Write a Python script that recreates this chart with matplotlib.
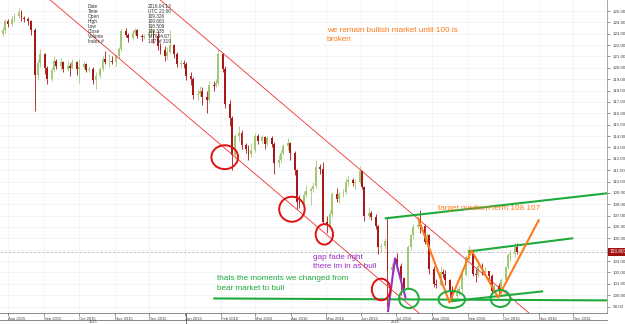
import numpy as np
import pandas as pd
import matplotlib
matplotlib.use('Agg')
import matplotlib.pyplot as plt
import matplotlib.dates as mdates
from matplotlib.patches import Ellipse
from matplotlib.lines import Line2D

plt.rcParams['font.family'] = ['Liberation Sans', 'DejaVu Sans']

# USD/JPY, one candle per two trading days, late Jul 2015 -> mid Oct 2016
first_open = 123.0
closes = [123.3, 124.1, 123.9,
          124.3, 124.6, 124.9, 124.4, 124.3, 124.1, 123.3, 119.4, 120.4, 121.2,
          120.0, 119.0, 119.8, 120.6, 120.2, 120.5, 119.9, 120.2, 120.0, 120.5, 119.9,
          120.1, 120.3, 119.8, 119.9, 118.9, 119.3, 119.9, 120.8, 120.5, 120.6, 120.5,
          121.0, 121.7, 123.2, 122.9, 122.6, 123.1, 123.3, 122.8, 122.7, 122.8, 123.1,
          123.2, 122.8, 121.9, 121.6, 121.0, 121.4, 122.0, 121.2, 120.3, 120.4, 120.3,
          119.3, 119.0, 117.6, 117.7, 118.0, 117.4, 117.2, 118.5, 118.4, 118.7, 121.2,
          119.9, 116.8, 115.6, 112.3, 114.0, 114.3, 113.2, 112.9, 112.4, 112.8, 114.0,
          113.6, 113.9, 113.3, 113.8, 113.3, 111.6, 111.9, 112.5, 113.1, 113.4, 112.5,
          111.0, 108.2, 108.1, 108.8, 109.2, 109.3, 109.6, 111.3, 111.1, 106.4,
          106.2, 107.1, 108.9, 108.5, 108.9, 109.1, 110.0, 110.1, 109.9, 110.0, 110.9,
          109.5, 107.0, 107.2, 106.9, 106.1, 104.2, 104.3, 104.8, 102.2, 102.5, 103.2,
          102.6, 101.5, 100.6, 104.2, 105.3, 106.0, 106.2, 106.1, 104.7, 105.3, 102.3,
          101.0, 100.9, 102.0, 101.9, 101.3, 100.3, 99.9, 100.2, 100.5, 101.8, 103.4,
          104.0, 101.9, 101.8, 102.6, 102.0, 102.1, 101.7, 100.4, 100.8, 100.4, 101.3,
          102.5, 103.5, 103.6, 104.2, 103.8]
highs = [123.6, 124.3, 124.3,
         124.6, 124.8, 125.3, 125.1, 124.6, 124.5, 124.2, 123.5, 120.8, 121.7,
         121.3, 120.2, 120.1, 121.0, 120.8, 120.9, 120.6, 120.6, 120.4, 120.8, 120.6,
         120.8, 120.6, 120.4, 120.2, 120.1, 119.6, 120.1, 121.0, 121.5, 121.2, 121.0,
         121.2, 121.8, 123.4, 123.5, 123.1, 123.3, 123.5, 123.4, 123.0, 123.0, 123.3,
         123.7, 123.3, 123.2, 122.2, 121.9, 121.8, 123.3, 122.1, 121.4, 120.7, 120.7,
         120.5, 119.6, 119.2, 118.1, 118.4, 118.3, 118.0, 118.8, 118.8, 119.0, 121.7,
         121.3, 120.2, 117.2, 115.8, 114.2, 114.9, 114.5, 113.4, 113.2, 113.4, 114.3,
         114.2, 114.1, 114.0, 114.0, 114.0, 113.5, 112.3, 112.8, 113.3, 113.8, 113.5,
         112.7, 111.1, 108.8, 109.2, 109.7, 109.5, 110.0, 111.9, 111.5, 111.7,
         107.0, 107.5, 109.1, 109.4, 109.2, 109.3, 110.3, 110.5, 110.3, 110.2, 111.4,
         111.0, 109.6, 107.8, 107.4, 107.1, 106.2, 104.6, 105.0, 106.8, 102.8, 103.3,
         103.7, 102.8, 101.6, 104.4, 105.4, 106.3, 106.5, 107.5, 106.3, 105.5, 105.4,
         102.6, 101.4, 102.6, 102.3, 102.2, 101.4, 100.8, 100.6, 100.8, 102.1, 103.5,
         104.3, 104.1, 102.3, 103.0, 102.8, 102.5, 102.1, 101.9, 101.0, 101.1, 101.5,
         102.6, 103.7, 104.0, 104.6, 104.6]
lows = [122.8, 123.1, 123.6,
        123.7, 124.0, 124.4, 124.1, 124.0, 123.8, 122.9, 116.2, 118.9, 120.1,
        119.5, 118.6, 118.8, 119.6, 119.9, 119.8, 119.6, 119.7, 119.3, 119.9, 119.4,
        118.7, 119.9, 119.6, 119.6, 118.6, 118.1, 119.1, 119.7, 120.3, 120.1, 120.3,
        120.2, 120.9, 121.5, 122.7, 122.3, 122.5, 122.9, 122.6, 122.4, 122.5, 122.6,
        122.9, 122.2, 121.6, 121.2, 120.6, 120.8, 121.2, 120.9, 120.1, 120.0, 120.0,
        118.9, 118.5, 117.3, 117.2, 117.5, 116.7, 116.0, 117.0, 118.0, 118.3, 118.5,
        119.6, 116.5, 114.9, 111.0, 112.0, 113.6, 112.9, 112.5, 111.9, 112.2, 112.6,
        113.3, 113.4, 112.9, 113.1, 113.0, 110.7, 111.3, 111.7, 112.3, 112.8, 111.9,
        110.6, 107.6, 107.7, 107.9, 108.6, 107.9, 109.1, 109.4, 110.7, 106.3,
        105.5, 105.9, 106.9, 108.2, 108.1, 108.6, 108.9, 109.6, 109.6, 109.3, 109.8,
        109.3, 106.5, 106.7, 106.6, 105.8, 103.6, 103.8, 104.1, 99.0, 101.5, 102.2,
        102.4, 100.0, 100.3, 100.5, 104.0, 104.9, 105.8, 105.5, 104.5, 104.2, 101.9,
        100.7, 100.6, 100.8, 101.5, 100.9, 99.5, 99.6, 99.7, 100.0, 100.3, 101.7,
        103.1, 101.7, 101.2, 101.6, 101.8, 101.7, 101.3, 100.1, 100.2, 100.1, 100.1,
        101.2, 102.3, 103.0, 103.4, 103.6]
dates = pd.bdate_range('2015-07-27', periods=len(closes), freq='2B')
opens = [first_open] + closes[:-1]

# info box (hovered candle)
info_names = ['Date', 'Time', 'Open', 'High', 'Low', 'Close', 'Volume', 'Index #']
info_values = ['2016.04.13', 'UTC 21:00', '109.326', '109.603', '108.509',
               '109.335', '147644.67', '187 of 319']

month_starts = pd.date_range('2015-08-01', '2016-12-01', freq='MS')
month_labels = [d.strftime('%b %Y') for d in month_starts]
price_ticks = list(range(99, 126))

# drawn trend lines (date, price)
red_line_1 = (['2015-09-06', '2016-07-21'], [126.0, 98.4])
red_line_2 = (['2015-12-10', '2016-10-24'], [126.0, 98.4])
green_upper = (['2016-06-22', '2016-12-30'], [106.76, 108.96])
green_mid = (['2016-09-02', '2016-11-30'], [103.85, 105.0])
green_low = (['2016-08-16', '2016-11-04'], [99.45, 100.33])
green_floor = (['2016-01-26', '2016-12-30'], [99.71, 99.54])
orange_zigzag = (['2016-07-20', '2016-08-16', '2016-09-04', '2016-09-27', '2016-11-01'],
                 [106.76, 99.36, 103.94, 99.80, 106.59])
purple_zigzag = (['2016-06-24', '2016-06-30', '2016-07-09'], [98.6, 103.24, 99.80])

red_circles = [('2016-02-04', 112.14, 23, 2.1), ('2016-04-02', 107.56, 22, 2.2),
               ('2016-04-30', 105.35, 15, 1.8), ('2016-06-18', 100.5, 16, 1.9)]
green_circles = [('2016-07-12', 99.71, 17, 1.7), ('2016-08-18', 99.62, 23, 1.5),
                 ('2016-09-29', 99.71, 17, 1.5)]

up_col = '#a3c873'
down_col = '#a81818'
red = '#f03030'
green = '#1faa3c'
orange = '#ff7a1a'
purple = '#9a2fc4'

fig = plt.figure(figsize=(6.25, 3.24), dpi=100)
ax = fig.add_axes([0, 11 / 324, 607 / 625, 313 / 324])

x = mdates.date2num(dates) + 0.5
o = np.array(opens)
c = np.array(closes)
h = np.array(highs)
l = np.array(lows)
up = c >= o
for mask, col in [(up, up_col), (~up, down_col)]:
    ax.vlines(x[mask], l[mask], h[mask], color=col, lw=0.6, zorder=2)
    body = np.maximum(np.abs(c - o)[mask], 0.06)
    ax.bar(x[mask], body, bottom=np.minimum(o, c)[mask], width=1.6,
           color=col, zorder=2)

def dline(pts, **kw):
    ax.plot(pd.to_datetime(pts[0]), pts[1], **kw)

dline(red_line_1, color=red, lw=0.6, zorder=3)
dline(red_line_2, color=red, lw=0.6, zorder=3)
for g in [green_upper, green_mid, green_low, green_floor]:
    dline(g, color=green, lw=1.5, zorder=4)
dline(orange_zigzag, color=orange, lw=1.5, zorder=5)
dline(purple_zigzag, color=purple, lw=1.5, zorder=5)

for d, p, w, hh in red_circles:
    ax.add_patch(Ellipse((mdates.date2num(pd.Timestamp(d)), p), w, hh,
                         fill=False, ec='#e01010', lw=1.4, zorder=6))
for d, p, w, hh in green_circles:
    ax.add_patch(Ellipse((mdates.date2num(pd.Timestamp(d)), p), w, hh,
                         fill=False, ec=green, lw=1.4, zorder=6))

# current price line + label (covers the 104 tick label, as in the chart)
ax.axhline(closes[-1], color='#bbbbbb', lw=0.6, ls=(0, (3, 2)), zorder=1)
ax.text(1.004, closes[-1], f'{closes[-1]:.3f}', transform=ax.get_yaxis_transform(),
        fontsize=3.4, color='white', va='center', ha='left',
        bbox=dict(boxstyle='square,pad=0.25', fc='#a01010', ec='none'), clip_on=False)

fs = 5.9
ax.text(pd.Timestamp('2016-05-02'), 123.6, 'we remain bullish market until 100 is\nbroken',
        color=orange, fontsize=fs, va='top', linespacing=1.45, zorder=7)
ax.text(pd.Timestamp('2016-08-06'), 107.64, 'target medium term 108 107',
        color=orange, fontsize=fs, va='center', zorder=7)
ax.text(pd.Timestamp('2016-04-20'), 103.6, 'gap fade right\nthere im in as bull',
        color=purple, fontsize=fs, va='top', linespacing=1.45, zorder=7)
ax.text(pd.Timestamp('2016-01-28'), 101.74, 'thats the moments we changed from\nbear market to bull',
        color=green, fontsize=fs, va='top', linespacing=1.45, zorder=7)

for i, (n, v) in enumerate(zip(info_names, info_values)):
    yy = 1 - (6 + 5.1 * i) / 313
    ax.text(88 / 607, yy, n, transform=ax.transAxes, fontsize=3.4, color='#333333', va='center')
    ax.text(148 / 607, yy, v, transform=ax.transAxes, fontsize=3.4, color='#333333', va='center')

ax.set_xlim(pd.Timestamp('2015-07-25'), pd.Timestamp('2016-12-30'))
ax.set_ylim(98.43, 125.97)

ax.set_xticks(month_starts)
ax.set_xticklabels(month_labels, fontsize=3.0, ha='left', color='#444444')
ax.tick_params(axis='x', length=2.5, width=0.5, pad=0.5, color='#666666')
ax.yaxis.tick_right()
ax.set_yticks(price_ticks)
ax.set_yticklabels(['' if p == 104 else f'{p:.2f}' for p in price_ticks],
                   fontsize=3.2, color='#444444')
ax.tick_params(axis='y', length=2, width=0.5, pad=2, color='#666666')
ax.grid(True, color='#f2f2f2', lw=0.5, zorder=0)
ax.set_axisbelow(True)
for s in ['top', 'left']:
    ax.spines[s].set_visible(False)
ax.spines['bottom'].set_color('#777777')
ax.spines['right'].set_color('#999999')
ax.spines['bottom'].set_linewidth(0.6)
ax.spines['right'].set_linewidth(0.6)

fig.add_artist(Line2D([0, 607 / 625], [4.5 / 324, 4.5 / 324], color='#777777', lw=0.6))
fig.add_artist(Line2D([186 / 625, 186 / 625], [0, 11 / 324], color='#555555', lw=0.6))
fig.text(93 / 625, 0, '2015', fontsize=2.8, color='#444444', ha='center', va='bottom')
fig.text(395 / 625, 0, '2016', fontsize=2.8, color='#444444', ha='center', va='bottom')

fig.savefig('out.png', dpi=100)
